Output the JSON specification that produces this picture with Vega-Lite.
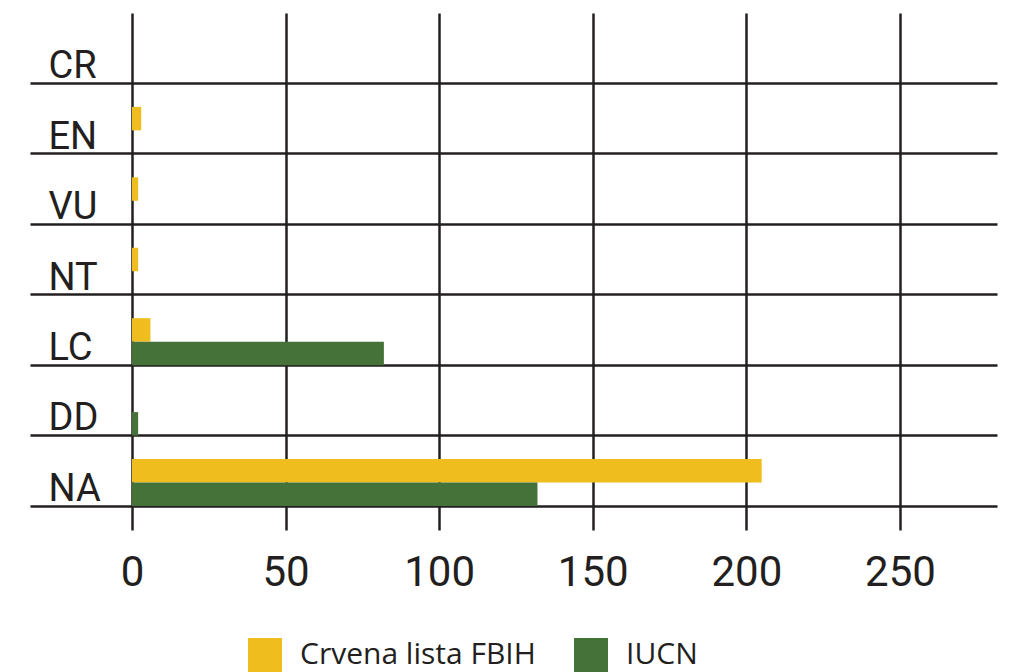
{
  "$schema": "https://vega.github.io/schema/vega-lite/v6.json",
  "autosize": {"type": "none"},
  "width": 865,
  "height": 493,
  "padding": {"left": 132, "top": 13, "right": 14, "bottom": 166},
  "background": "white",
  "data": {
    "values": [
      {"status": "CR", "lista": "Crvena lista FBIH", "broj": 0},
      {"status": "CR", "lista": "IUCN", "broj": 0},
      {"status": "EN", "lista": "Crvena lista FBIH", "broj": 3},
      {"status": "EN", "lista": "IUCN", "broj": 0},
      {"status": "VU", "lista": "Crvena lista FBIH", "broj": 2},
      {"status": "VU", "lista": "IUCN", "broj": 0},
      {"status": "NT", "lista": "Crvena lista FBIH", "broj": 2},
      {"status": "NT", "lista": "IUCN", "broj": 0},
      {"status": "LC", "lista": "Crvena lista FBIH", "broj": 6},
      {"status": "LC", "lista": "IUCN", "broj": 82},
      {"status": "DD", "lista": "Crvena lista FBIH", "broj": 0},
      {"status": "DD", "lista": "IUCN", "broj": 2},
      {"status": "NA", "lista": "Crvena lista FBIH", "broj": 205},
      {"status": "NA", "lista": "IUCN", "broj": 132}
    ]
  },
  "mark": {"type": "bar"},
  "encoding": {
    "y": {
      "field": "status",
      "type": "nominal",
      "sort": ["CR", "EN", "VU", "NT", "LC", "DD", "NA"],
      "scale": {"paddingInner": 0, "paddingOuter": 0},
      "axis": {
        "title": null,
        "bandPosition": 1,
        "domain": false,
        "grid": true,
        "gridColor": "#231f20",
        "gridWidth": 2.5,
        "gridOpacity": 1,
        "ticks": true,
        "tickSize": 102,
        "tickWidth": 2.5,
        "tickColor": "#231f20",
        "labelAlign": "left",
        "labelBaseline": "alphabetic",
        "labelPadding": -18,
        "labelOffset": 30,
        "labelFont": "Roboto",
        "labelFontSize": 38,
        "labelColor": "#231f20"
      }
    },
    "yOffset": {
      "field": "lista",
      "type": "nominal",
      "scale": {"domain": [" ", "Crvena lista FBIH", "IUCN"], "paddingInner": 0, "paddingOuter": 0}
    },
    "x": {
      "field": "broj",
      "type": "quantitative",
      "scale": {"domain": [0, 281.6], "nice": false},
      "axis": {
        "title": null,
        "values": [0, 50, 100, 150, 200, 250],
        "domain": false,
        "grid": true,
        "gridColor": "#231f20",
        "gridWidth": 2.5,
        "gridOpacity": 1,
        "ticks": true,
        "tickSize": 24,
        "tickWidth": 2.5,
        "tickColor": "#231f20",
        "labelPadding": 22,
        "labelFont": "Roboto",
        "labelFontSize": 42,
        "labelColor": "#231f20",
        "labelFlush": false
      }
    },
    "color": {
      "field": "lista",
      "type": "nominal",
      "scale": {"domain": ["Crvena lista FBIH", "IUCN"], "range": ["#efbe1e", "#457238"]},
      "legend": {
        "title": null,
        "orient": "none",
        "direction": "horizontal",
        "legendX": 116,
        "legendY": 625,
        "symbolType": "square",
        "symbolSize": 1156,
        "symbolStrokeWidth": 0,
        "symbolOpacity": 1,
        "labelFont": "Open Sans",
        "labelFontSize": 30,
        "labelLimit": 500,
        "labelColor": "#231f20",
        "labelOffset": 18,
        "columnPadding": 38
      }
    }
  },
  "config": {"view": {"stroke": null}}
}
